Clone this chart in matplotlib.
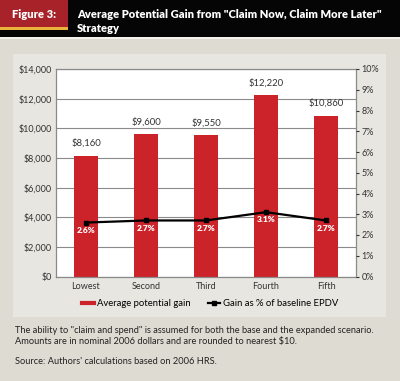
import matplotlib.pyplot as plt
from matplotlib.patches import Rectangle
from matplotlib.lines import Line2D

plt.rcParams["font.family"] = ["Lato", "DejaVu Sans"]

groups = ["Lowest", "Second", "Third", "Fourth", "Fifth"]
gain = [8160, 9600, 9550, 12220, 10860]
pct = [2.6, 2.7, 2.7, 3.1, 2.7]
gain_labels = ["$8,160", "$9,600", "$9,550", "$12,220", "$10,860"]
pct_labels = ["2.6%", "2.7%", "2.7%", "3.1%", "2.7%"]

BG = "#dedbd3"
PANEL = "#e8e6e0"
RED = "#cc2229"
W, H = 400, 381

fig = plt.figure(figsize=(4.0, 3.81), dpi=100)
fig.patch.set_facecolor(BG)


def box(x, y, w, h, color):
    # pixel coords from top-left
    fig.add_artist(Rectangle((x / W, 1 - (y + h) / H), w / W, h / H,
                             transform=fig.transFigure, facecolor=color,
                             edgecolor="none", zorder=-5))


# header
box(0, 0, W, 37, "#050505")
box(0, 37, W, 2, "#f2f1ec")
box(0, 0, 68, 27, "#a8222a")
box(0, 27, 68, 3, "#e9b23b")
fig.text(34 / W, 1 - 14 / H, "Figure 3:", color="white", fontsize=8,
         fontweight="heavy", ha="center", va="center")
fig.text(77 / W, 1 - 14 / H, 'Average Potential Gain from "Claim Now, Claim More Later"',
         color="white", fontsize=8, fontweight="heavy", ha="left", va="center")
fig.text(77 / W, 1 - 28 / H, "Strategy", color="white", fontsize=8,
         fontweight="heavy", ha="left", va="center")

# inner panel
box(13, 54, 373, 263, PANEL)

ax = fig.add_axes([56 / W, 1 - 276.5 / H, 300 / W, 207.5 / H])
ax.set_facecolor("white")
x = range(len(groups))
ax.bar(x, gain, width=0.4, color=RED, zorder=2)
ax.set_ylim(0, 14000)
ax.set_xlim(-0.5, 4.5)
ax.set_yticks(range(0, 14001, 2000))
ax.set_yticklabels([f"${v:,}" for v in range(0, 14001, 2000)])
ax.set_xticks(list(x))
ax.set_xticklabels(groups)
ax.grid(axis="y", color="#8a8a8a", linewidth=0.8, zorder=1)
ax.tick_params(axis="both", labelsize=6.5, colors="#333333", length=0, pad=3)
ax.tick_params(axis="x", pad=4)
for s in ax.spines.values():
    s.set_color("#8a8a8a")
    s.set_linewidth(0.9)
for i, v in enumerate(gain):
    ax.text(i, v + 500, gain_labels[i], ha="center", va="bottom",
            fontsize=6.8, color="#333333")

ax2 = ax.twinx()
ax2.plot(list(x), pct, color="black", linewidth=1.6, marker="s",
         markersize=3, zorder=3)
ax2.set_ylim(0, 10)
ax2.set_yticks(range(0, 11))
ax2.set_yticklabels([f"{v}%" for v in range(0, 11)])
ax2.tick_params(axis="y", labelsize=6.5, colors="#333333", length=2, pad=2)
for s in ax2.spines.values():
    s.set_visible(False)
for i, v in enumerate(pct):
    ax2.text(i, v - 0.2, pct_labels[i], ha="center", va="top",
             fontsize=6, color="white", fontweight="heavy")

handles = [
    Line2D([0], [0], color=RED, linewidth=3),
    Line2D([0], [0], color="black", linewidth=1.6, marker="s", markersize=3),
]
fig.legend(handles, ["Average potential gain", "Gain as % of baseline EPDV"],
           loc="center", bbox_to_anchor=(210 / W, 1 - 304 / H), ncol=2,
           frameon=False, fontsize=6.8, handlelength=1.3, handletextpad=0.3,
           columnspacing=1.8)

fig.text(15 / W, 1 - 336 / H,
         'The ability to "claim and spend" is assumed for both the base and the expanded scenario.\n'
         "Amounts are in nominal 2006 dollars and are rounded to nearest $10.",
         fontsize=6.7, color="#222222", ha="left", va="center", linespacing=1.25)
fig.text(15 / W, 1 - 361 / H, "Source: Authors' calculations based on 2006 HRS.",
         fontsize=6.7, color="#222222", ha="left", va="center")

fig.savefig("out.png", dpi=100, facecolor=fig.get_facecolor())
